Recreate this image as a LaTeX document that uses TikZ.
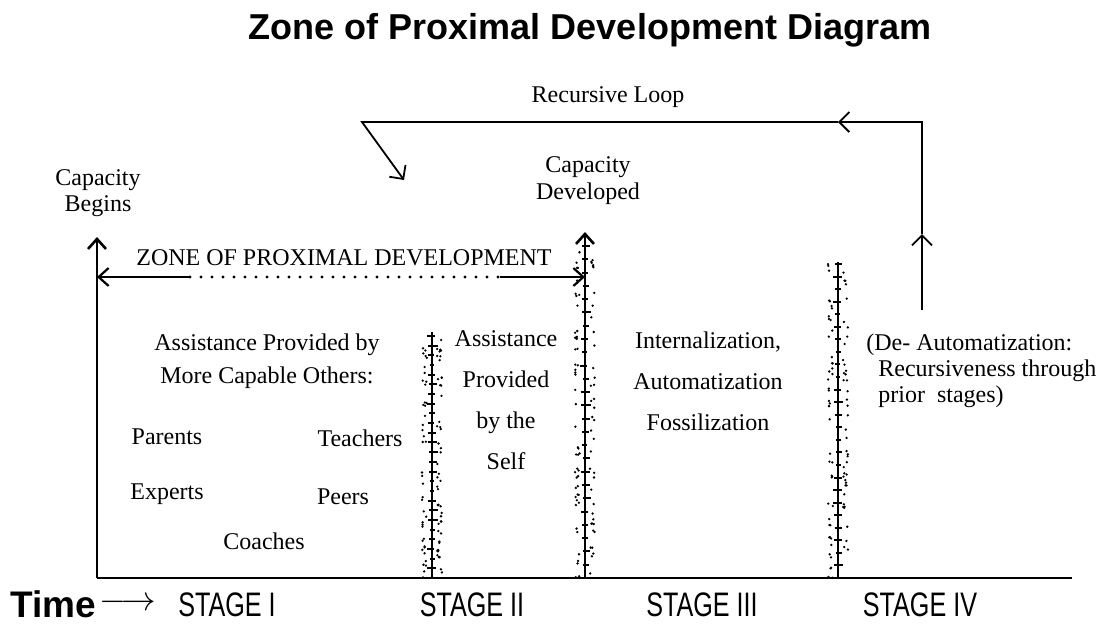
\documentclass[tikz,border=0pt]{standalone}
\usepackage{fontspec}
\setmainfont{Liberation Serif}
\newfontfamily\titlefont{Liberation Sans}
\newfontfamily\stagefont[FakeStretch=0.74]{Liberation Sans}
\usetikzlibrary{positioning,arrows.meta,calc}

\begin{document}
\begin{tikzpicture}[x=0.5pt,y=-0.5pt]
		\tikzstyle{txt} = [align=center, inner sep=0pt, font=\fontsize{12}{16.5}\selectfont]
		\tikzstyle{stage} = [inner sep=0pt, font=\stagefont\fontsize{17}{19}\selectfont]
		\tikzstyle{axis} = [line width=1.3pt]
		\tikzstyle{rise} = [line width=1.3pt,-{Straight Barb[length=5pt,width=9pt]}]
		\tikzstyle{loopto} = [line width=0.9pt,-{Straight Barb[length=5pt,width=10pt]}]
		\tikzstyle{zpd} = [line width=1.1pt]
		
		\useasboundingbox (0,0) rectangle (1099,623);
		
		% axis and rising lines
		\coordinate (origin) at (97,578);
		\coordinate (axisEnd) at (1072,578);
		\coordinate (beginsTop) at (97,237);
		\coordinate (stageTwoBase) at (432,578);
		\coordinate (stageTwoTop) at (432,332);
		\coordinate (developedBase) at (585,578);
		\coordinate (developedTop) at (585,232);
		\coordinate (stageFourBase) at (838,578);
		\coordinate (stageFourTop) at (838,262);
		
		\draw [axis] (origin) -- (axisEnd);
		\draw [rise] (origin) -- (beginsTop);
		\draw [rise] (developedBase) -- (developedTop);
		\draw [axis] (stageTwoBase) -- (stageTwoTop);
		\draw [axis] (stageFourBase) -- (stageFourTop);
		
		% stippled columns
		\pgfmathsetseed{17}
		\foreach \cx/\ctop in {432/336, 585/246, 838/264} {
			\foreach \i in {0,...,24} {
				\pgfmathsetmacro\ty{\ctop+\i*(578-\ctop)/25}
				\pgfmathsetmacro\tl{2+3*rnd}
				\pgfmathsetmacro\tr{2+4*rnd}
				\draw [line width=1pt] ({\cx-\tl},\ty) -- ({\cx+\tr},\ty);
			}
			\foreach \i in {1,...,90} {
				\pgfmathsetmacro\dy{\ctop+rnd*(578-\ctop)}
				\pgfmathsetmacro\dx{ifthenelse(rnd<0.5,-1,1)*(5+5*rnd)}
				\fill ({\cx+\dx},\dy) circle (1.3);
			}
		}
		
		% zone of proximal development
		\coordinate (zpdLeft) at (97,277);
		\coordinate (zpdRight) at (585,277);
		\coordinate (zpdDotsA) at (190,277);
		\coordinate (zpdDotsB) at (500,277);
		\draw [rise,zpd] (zpdDotsA) -- (zpdLeft);
		\draw [rise,zpd] (zpdDotsB) -- (zpdRight);
		\draw [line width=1.7pt,line cap=round,dash pattern=on 0pt off 5.5pt] (zpdDotsA) -- (zpdDotsB);
		
		% recursive loop
		\coordinate (loopStart) at (922,310);
		\coordinate (loopUp) at (922,234);
		\coordinate (loopCorner) at (922,122);
		\coordinate (loopLeft) at (838,122);
		\coordinate (loopEnd) at (362,122);
		\coordinate (loopTip) at (404,180);
		\draw [loopto] (loopStart) -- (loopUp);
		\draw [loopto] (loopUp) -- (loopCorner) -- (loopLeft);
		\draw [loopto] (loopLeft) -- (loopEnd) -- (loopTip);
		
		% texts
		\node (title) [font=\titlefont\bfseries\fontsize{18}{22}\selectfont] at (590,30) {Zone of Proximal Development Diagram};
		\node (recursiveLoop) [txt] at (608,97) {Recursive Loop};
		\node (capacityBegins) [txt, font=\fontsize{12}{13}\selectfont] at (98,193) {Capacity\\Begins};
		\node (capacityDeveloped) [txt, font=\fontsize{12}{13.5}\selectfont] at (588,181) {Capacity\\Developed};
		\node (zpdLabel) [txt] at (344,258) {ZONE OF PROXIMAL DEVELOPMENT};
		
		\node (assistOthers) [txt] at (267,361) {Assistance Provided by\\More Capable Others:};
		\node (parents) [txt] at (167,437) {Parents};
		\node (teachers) [txt] at (360,438) {Teachers};
		\node (experts) [txt] at (167,494) {Experts};
		\node (peers) [txt] at (343,497) {Peers};
		\node (coaches) [txt] at (264,541) {Coaches};
		
		\node (assistSelf) [txt, font=\fontsize{12}{20.5}\selectfont] at (506,400) {Assistance\\Provided\\by the\\Self};
		\node (internal) [txt, font=\fontsize{12}{20.5}\selectfont] at (708,381) {Internalization,\\Automatization\\Fossilization};
		\node (deAuto) [txt, align=left, anchor=west, font=\fontsize{12}{13}\selectfont] at (866,371) {(De- Automatization:\\\hspace{6pt}Recursiveness through\\\hspace{6pt}prior\ \ stages)};
		
		\node (timeLabel) [anchor=west, inner sep=0pt, font=\titlefont\bfseries\fontsize{18.5}{20}\selectfont] at (10,604) {Time};
		\node (timeArrow) [right=1.5pt of timeLabel, inner sep=0pt, font=\fontsize{16}{18}\selectfont] {$\longrightarrow$};
		\node (stageOne) [stage] at (227,605) {STAGE I};
		\node (stageTwo) [stage] at (472,605) {STAGE II};
		\node (stageThree) [stage] at (702,605) {STAGE III};
		\node (stageFour) [stage] at (920,605) {STAGE IV};
	
	\end{tikzpicture}
\end{document}
